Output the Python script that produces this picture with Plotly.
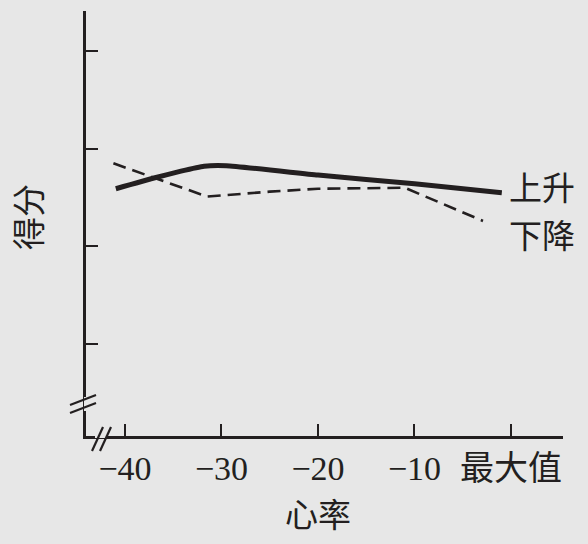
import plotly.graph_objects as go

# Data
rise_x = [-40.95, -37.0, -34.2, -31.8, -29.5, -20.0, -10.0, -0.95]
rise_y = [2.59, 2.70, 2.77, 2.82, 2.825, 2.73, 2.64, 2.55]
fall_x = [-41.2, -31.5, -25.0, -20.0, -11.0, -2.9]
fall_y = [2.85, 2.51, 2.56, 2.59, 2.60, 2.26]
xtick_vals = [-40, -30, -20, -10, 0]
xtick_text = ["−40", "−30", "−20", "−10", "最大值"]
ytick_vals = [1, 2, 3, 4]
series_names = ["上升", "下降"]

W, H = 588, 544
L, R, T, B = 86, 25, 11, 108
pw, ph = W - L - R, H - T - B
bg = "#e7e7e7"
ink = "#231f20"
font_fam = "Liberation Serif, Noto Sans CJK SC, serif"

def px(x):
    return (x - L) / pw

def py(y):
    return (H - B - y) / ph

fig = go.Figure()
fig.add_trace(go.Scatter(x=rise_x, y=rise_y, mode="lines", name=series_names[0],
                         line=dict(color=ink, width=5, shape="spline", smoothing=0.5)))
fig.add_trace(go.Scatter(x=fall_x, y=fall_y, mode="lines", name=series_names[1],
                         line=dict(color=ink, width=2.6, dash="13px,7px")))

fig.update_layout(
    width=W, height=H,
    margin=dict(l=L, r=R, t=T, b=B),
    paper_bgcolor=bg, plot_bgcolor=bg,
    showlegend=False,
    font=dict(family=font_fam, color=ink, size=33),
    xaxis=dict(range=[-44.04, 5.39], tickvals=xtick_vals, ticktext=xtick_text,
               showline=True, linecolor=ink, linewidth=2.5, ticks="inside",
               ticklen=12, tickwidth=2, tickcolor=ink, showgrid=False, zeroline=False,
               tickfont=dict(size=34, family=font_fam, color=ink)),
    yaxis=dict(range=[0.058, 4.41], tickvals=ytick_vals, showticklabels=False,
               showline=True, linecolor=ink, linewidth=2.5, ticks="inside",
               ticklen=12, tickwidth=2, tickcolor=ink, showgrid=False, zeroline=False),
)

def label(x, y, text, angle=0):
    fig.add_annotation(x=px(x), y=py(y), xref="paper", yref="paper", text=text,
                       xanchor="center", yanchor="middle", textangle=angle,
                       showarrow=False, font=dict(size=33, family=font_fam, color=ink))

# series labels
label(542, 189, series_names[0])
label(542, 237, series_names[1])
# axis titles
label(318, 516, "心率")
label(30, 217, "得分", angle=-90)

# axis break marks
def seg(x0, y0, x1, y1, w=2.2, color=ink):
    fig.add_shape(type="line", xref="paper", yref="paper",
                  x0=px(x0), y0=py(y0), x1=px(x1), y1=py(y1),
                  line=dict(color=color, width=w))

# gap in y axis
seg(86, 397, 86, 411, w=4, color=bg)
seg(70, 405, 96, 395)
seg(70, 413, 96, 403)
# gap in x axis
seg(95, 436, 106, 436, w=4, color=bg)
seg(92, 451, 103, 427)
seg(100, 451, 111, 427)

fig.write_html("out.html", config={"displayModeBar": False},
               post_script="document.body.style.margin='0';document.body.style.background='%s';" % bg)
